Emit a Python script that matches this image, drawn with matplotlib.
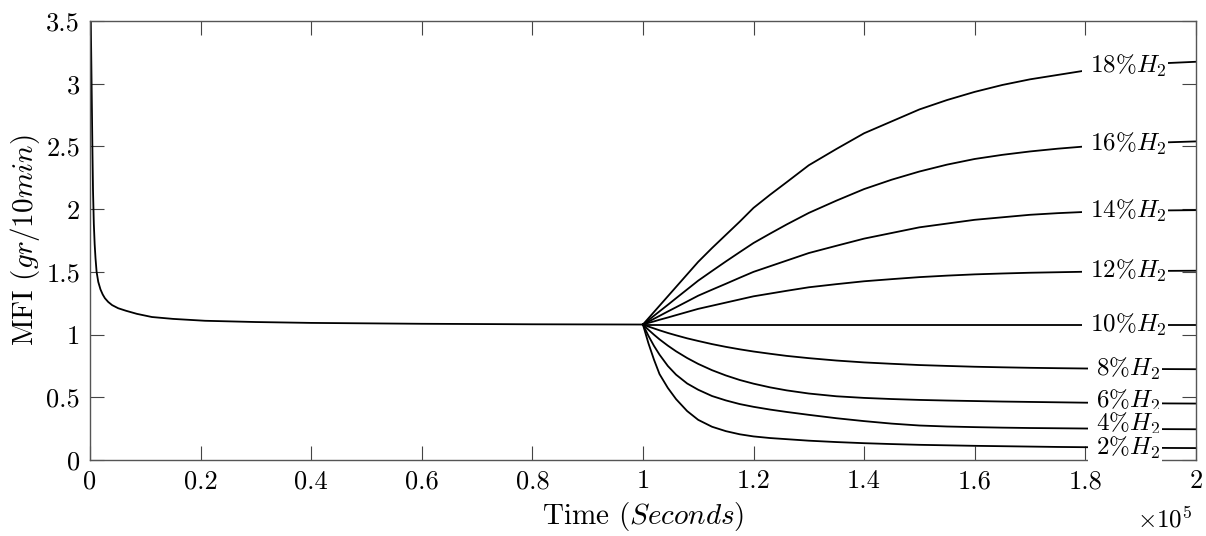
import numpy as np
import matplotlib
matplotlib.use("Agg")
import matplotlib.pyplot as plt
from matplotlib.ticker import FuncFormatter

plt.rcParams['font.family'] = 'serif'
plt.rcParams['font.serif'] = ['cmr10']
plt.rcParams['mathtext.fontset'] = 'cm'
plt.rcParams['axes.formatter.use_mathtext'] = True

# start-up transient at 10% H2 (time in seconds)
t_start = [0, 150, 250, 350, 450, 550, 700, 850, 1000, 1200, 1500, 1900, 2300, 2700,
           3300, 4000, 5100, 6500, 8500, 11200, 15000, 20800, 30000, 40000, 60000,
           80000, 100000]
mfi_start = [4.5, 3.5, 3.15, 2.8, 2.45, 2.15, 1.88, 1.72, 1.61, 1.50, 1.42, 1.36, 1.32, 1.29,
             1.26, 1.235, 1.21, 1.19, 1.165, 1.14, 1.125, 1.11, 1.10, 1.093, 1.086,
             1.082, 1.08]

# step change of hydrogen at t = 1e5 s
t_step = [100000, 101000, 102000, 103000, 104500, 106000, 108000, 110000, 112500,
          115000, 117500, 120000, 123000, 126000, 130000, 135000, 140000, 145000,
          150000, 155000, 160000, 165000, 170000, 175000, 180000, 185000, 190000,
          195000, 200000]

h2_labels = ['18', '16', '14', '12', '10', '8', '6', '4', '2']
mfi_18 = [1.08, 1.13, 1.18, 1.23, 1.305, 1.38, 1.48, 1.58, 1.69, 1.795, 1.90, 2.01, 2.115,
          2.215, 2.35, 2.48, 2.605, 2.70, 2.795, 2.87, 2.935, 2.99, 3.035, 3.07, 3.105,
          3.13, 3.15, 3.165, 3.175]
mfi_16 = [1.08, 1.115, 1.15, 1.185, 1.237, 1.29, 1.36, 1.43, 1.507, 1.583, 1.657, 1.73,
          1.805, 1.878, 1.97, 2.068, 2.16, 2.235, 2.30, 2.355, 2.40, 2.433, 2.46, 2.482,
          2.50, 2.514, 2.525, 2.533, 2.54]
mfi_14 = [1.08, 1.103, 1.126, 1.149, 1.184, 1.218, 1.264, 1.31, 1.358, 1.405, 1.453, 1.50,
          1.545, 1.59, 1.65, 1.708, 1.765, 1.81, 1.855, 1.885, 1.915, 1.935, 1.955, 1.968,
          1.978, 1.984, 1.988, 1.99, 1.992]
mfi_12 = [1.08, 1.093, 1.105, 1.118, 1.136, 1.155, 1.18, 1.205, 1.23, 1.255, 1.28, 1.305,
          1.327, 1.349, 1.377, 1.402, 1.425, 1.442, 1.458, 1.47, 1.48, 1.487, 1.493, 1.497,
          1.501, 1.504, 1.506, 1.508, 1.509]
mfi_10 = [1.08] * 29
mfi_8 = [1.08, 1.064, 1.049, 1.034, 1.013, 0.994, 0.970, 0.949, 0.924, 0.902, 0.8825,
         0.865, 0.847, 0.830, 0.812, 0.793, 0.778, 0.767, 0.757, 0.750, 0.7435, 0.739,
         0.735, 0.732, 0.7295, 0.7276, 0.726, 0.7248, 0.7238]
mfi_6 = [1.08, 1.038, 0.999, 0.962, 0.912, 0.8665, 0.813, 0.766, 0.716, 0.674, 0.638,
         0.6086, 0.579, 0.555, 0.53, 0.508, 0.495, 0.486, 0.479, 0.474, 0.47, 0.466,
         0.463, 0.46, 0.457, 0.455, 0.453, 0.451, 0.45]
mfi_4 = [1.08, 0.99, 0.91, 0.84, 0.75, 0.68, 0.61, 0.56, 0.51, 0.475, 0.446, 0.424,
         0.402, 0.383, 0.36, 0.333, 0.31, 0.29, 0.275, 0.267, 0.262, 0.258, 0.255, 0.253,
         0.251, 0.249, 0.247, 0.246, 0.245]
mfi_2 = [1.08, 0.93, 0.80, 0.685, 0.575, 0.485, 0.39, 0.32, 0.265, 0.23, 0.205, 0.188,
         0.175, 0.166, 0.154, 0.143, 0.134, 0.127, 0.121, 0.117, 0.113, 0.11, 0.107,
         0.104, 0.102, 0.10, 0.098, 0.096, 0.095]
step_curves = [mfi_18, mfi_16, mfi_14, mfi_12, mfi_10, mfi_8, mfi_6, mfi_4, mfi_2]
label_nudge = [0, 0, 0, 0, 0, 0, 0.02, 0.04, 0]

label_x = 187200

fig = plt.figure(figsize=(12.06, 5.36), dpi=100)
ax = fig.add_axes([0.0746, 0.1418, 0.917, 0.819])

ax.plot(t_start, mfi_start, color='black', lw=1.3)
for lab, y, dy in zip(h2_labels, step_curves, label_nudge):
    ax.plot(t_step, y, color='black', lw=1.3)
    ly = np.interp(label_x, t_step, y) + dy
    ax.text(label_x, ly, r'$\ %s\%%H_2\ $' % lab, ha='center', va='center', fontsize=18,
            zorder=5, bbox=dict(boxstyle='square,pad=0.05', fc='white', ec='none'))

ax.set_xlim(0, 200000)
ax.set_ylim(0, 3.5)
ax.set_xticks(np.arange(0, 200001, 20000))
ax.set_yticks(np.arange(0, 3.51, 0.5))
ax.xaxis.set_major_formatter(FuncFormatter(lambda v, p: '%g' % (v / 1e5)))
ax.yaxis.set_major_formatter(FuncFormatter(lambda v, p: '%g' % v))
ax.tick_params(direction='in', length=10, width=0.8, color='#444444',
               top=True, right=True, labelsize=19)
ax.tick_params(axis='x', pad=7)
ax.tick_params(axis='y', pad=7)
for s in ax.spines.values():
    s.set_color('#555555')
    s.set_linewidth(1.0)

ax.set_xlabel(r'Time $(Seconds)$', fontsize=21, labelpad=5)
ax.set_ylabel(r'MFI $(gr/10min)$', fontsize=21, labelpad=3)
fig.text(1165 / 1206, 1 - 519 / 536, r'$\times10^5$', ha='center', va='center', fontsize=18)

fig.savefig('out.png', dpi=100)
